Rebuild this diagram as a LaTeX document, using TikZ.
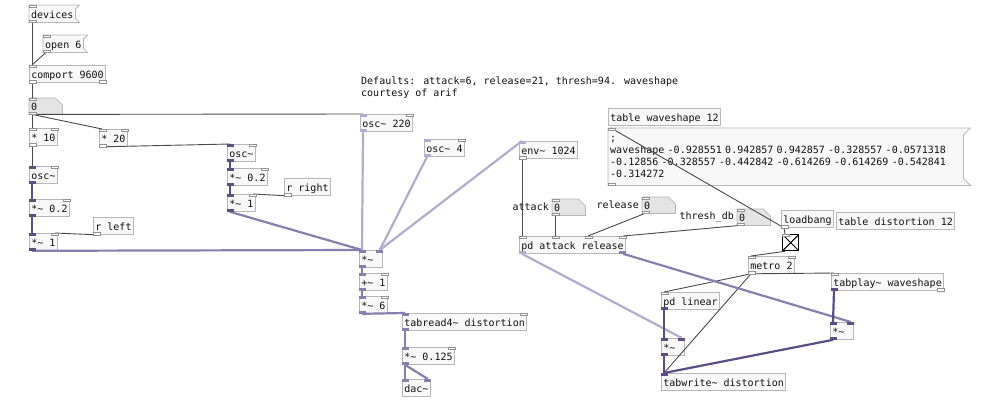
\documentclass[tikz,border=0pt]{standalone}
\usepackage{fontspec}
\newfontfamily\pdfont{DejaVu Sans Mono}
\definecolor{ink}     {HTML}{111111}
\definecolor{frame}   {HTML}{B8B8B8}
\definecolor{boxfill} {HTML}{F8F8F8}
\definecolor{numfill} {HTML}{E4E4E4}
\definecolor{wire}    {HTML}{4A4A4A}
\definecolor{sigdark} {HTML}{5A4E82}
\definecolor{sigmid}  {HTML}{877FAD}
\definecolor{siglight}{HTML}{B2ADCE}
\usetikzlibrary{positioning,calc,backgrounds}
\newcommand{\tld}{\textasciitilde}
\tikzset{
  pdbox/.style={anchor=north west,font=\pdfont\fontsize{10}{12}\selectfont,
                text=ink,inner xsep=2pt,inner ysep=0pt},
  obj/.style={pdbox,draw=frame,fill=boxfill,line width=0.8pt,
              minimum height=17pt,text height=9.5pt,text depth=0.5pt},
  narrow/.style={text width=19pt,align=left},
  msg/.style={pdbox,minimum height=17pt,text height=9.5pt,text depth=0.5pt},
  numbox/.style={pdbox,minimum height=16pt,text width=29pt,align=left,
                 text height=9pt,text depth=0.5pt},
  note/.style={pdbox,align=left},
  tag/.style={font=\pdfont\fontsize{10}{12}\selectfont,text=ink,inner sep=0pt},
  frameline/.style={draw=frame,line width=0.8pt},
  ctl/.style={draw=wire,line width=0.9pt},
  sig/.style={draw=#1,line width=2.2pt}, sig/.default=sigdark,
  ctltab/.style={draw=frame!80!black,fill=white,line width=0.6pt},
  sigtab/.style={fill=#1,draw=none}, sigtab/.default=sigdark
}
% inlets and outlets
\newcommand{\inL}[2][ctltab]{\draw[#1] (#2.north west) rectangle ++(7,2.5);}
\newcommand{\inR}[2][ctltab]{\draw[#1] (#2.north east) rectangle ++(-7,2.5);}
\newcommand{\outL}[2][ctltab]{\draw[#1] (#2.south west) rectangle ++(7,-2.5);}
\newcommand{\outR}[2][ctltab]{\draw[#1] (#2.south east) rectangle ++(-7,-2.5);}
% message and number box outlines
\newcommand{\flag}[2][4]{\draw[frameline,fill=boxfill] (#2.north west)
  -- ([xshift=#1pt]#2.north east) -- ([yshift=-#1pt]#2.north east)
  -- ([yshift=#1pt]#2.south east) -- ([xshift=#1pt]#2.south east)
  -- (#2.south west) -- cycle;}
\newcommand{\numframe}[1]{\draw[frameline,fill=numfill] (#1.north west)
  -- ([xshift=-7pt]#1.north east) -- ([yshift=-7pt]#1.north east)
  -- (#1.south east) -- (#1.south west) -- cycle;}

\begin{document}
\begin{tikzpicture}[x=1pt,y=-1pt]
  \useasboundingbox (0,0) rectangle (1000,400);

  % serial part
  \node[msg] (devices) at (29,5) {devices};
  \node[msg] (open) at (43,35) {open 6};
  \node[obj] (comport) at (29,65) {comport 9600};
  \node[numbox] (num) at (29,98) {0};
  \node[obj] (multen) at (29,128) {* 10};
  \node[obj] (multwenty) at (99,129) {* 20};
  \node[obj] (oscL) at (29,166) {osc\tld};
  \node[obj] (gainL) at (29,199) {*\tld{} 0.2};
  \node[obj] (rleft) at (93,217) {r left};
  \node[obj] (volL) at (29,233) {*\tld{} 1};
  \node[obj] (oscR) at (227,144) {osc\tld};
  \node[obj] (gainR) at (227,168) {*\tld{} 0.2};
  \node[obj] (rright) at (284,178) {r right};
  \node[obj] (volR) at (227,194) {*\tld{} 1};

  % distortion chain
  \node[note] (notes) at (359,77)
    {Defaults: attack=6, release=21, thresh=94. waveshape\\courtesy of arif};
  \node[obj] (carrier) at (360,114) {osc\tld{} 220};
  \node[obj] (lfo) at (424,139) {osc\tld{} 4};
  \node[obj] (follow) at (519,141) {env\tld{} 1024};
  \node[obj,narrow] (ring) at (359,250) {*\tld};
  \node[obj] (offset) at (359,273) {+\tld{} 1};
  \node[obj] (index) at (359,296) {*\tld{} 6};
  \node[obj] (lookup) at (402,313) {tabread4\tld{} distortion};
  \node[obj] (master) at (402,347) {*\tld{} 0.125};
  \node[obj] (out) at (402,379) {dac\tld};

  % envelope controls
  \node[numbox] (attack) at (552,199) {0};
  \node[tag,left=3pt of attack] (attacktag) {attack};
  \node[numbox] (release) at (642,197) {0};
  \node[tag,left=3pt of release] (releasetag) {release};
  \node[numbox] (thresh) at (737,209) {0};
  \node[tag,left=3pt of thresh] (threshtag) {thresh\_db};
  \node[obj] (dyn) at (519,236) {pd attack release};

  % table filling
  \node[obj] (wavetable) at (608,108) {table waveshape 12};
  \node[pdbox,text width=351pt,align=left,minimum height=57pt] (wavemsg) at (608,128)
    {;\\
     waveshape -0.928551 0.942857 0.942857 -0.328557 -0.0571318\\
     -0.12856 -0.328557 -0.442842 -0.614269 -0.614269 -0.542841\\
     -0.314272};
  \node[obj] (loadbang) at (781,210) {loadbang};
  \node[obj] (disttable) at (836,212) {table distortion 12};
  \node[draw=black,line width=1.3pt,fill=white,minimum size=16pt,inner sep=0pt,
        anchor=north west] (bang) at (782,234) {};
  \node[obj] (clock) at (748,256) {metro 2};
  \node[obj] (player) at (831,273) {tabplay\tld{} waveshape};
  \node[obj] (ramp) at (661,292) {pd linear};
  \node[obj,narrow] (shapeA) at (661,338) {*\tld};
  \node[obj,narrow] (shapeB) at (830,322) {*\tld};
  \node[obj] (writer) at (661,373) {tabwrite\tld{} distortion};

  \draw[line width=1pt] ([shift={(1.5pt,-1.5pt)}]bang.north west) -- ([shift={(-1.5pt,1.5pt)}]bang.south east);
  \draw[line width=1pt] ([shift={(-1.5pt,-1.5pt)}]bang.north east) -- ([shift={(1.5pt,1.5pt)}]bang.south west);

  \begin{scope}[on background layer]
    \fill[white] (0,0) rectangle (1000,400);
    \flag{devices} \flag{open} \flag[7]{wavemsg}
    \numframe{num} \numframe{attack} \numframe{release} \numframe{thresh}
  \end{scope}

  % control wires
  \draw[ctl] ([xshift=3pt]devices.south west) -- ([xshift=3pt]comport.north west);
  \draw[ctl] ([xshift=3pt]open.south west) -- ([xshift=3pt]comport.north west);
  \draw[ctl] ([xshift=3pt]comport.south west) -- ([xshift=3pt]num.north west);
  \draw[ctl] ([xshift=3pt]num.south west) -- ([xshift=3pt]multen.north west);
  \draw[ctl] ([xshift=3pt]num.south west) -- ([xshift=3pt]multwenty.north west);
  \draw[ctl] ([xshift=3pt]num.south west) -- ([xshift=3pt]carrier.north west);
  \draw[ctl] ([xshift=3pt]multen.south west) -- ([xshift=3pt]oscL.north west);
  \draw[ctl] ([xshift=3pt]multwenty.south west) -- ([xshift=3pt]oscR.north west);
  \draw[ctl] ([xshift=3pt]rleft.south west) -- ([xshift=-3pt]volL.north east);
  \draw[ctl] ([xshift=3pt]rright.south west) -- ([xshift=-3pt]volR.north east);
  \draw[ctl] ([xshift=3pt]follow.south west) -- ([xshift=3pt]dyn.north west);
  \draw[ctl] ([xshift=3pt]attack.south west) -- ([xshift=36pt]dyn.north west);
  \draw[ctl] ([xshift=3pt]release.south west) -- ([xshift=69pt]dyn.north west);
  \draw[ctl] ([xshift=3pt]thresh.south west) -- ([xshift=-3pt]dyn.north east);
  \draw[ctl] ([xshift=3pt]loadbang.south west) -- ([xshift=3pt]wavemsg.north west);
  \draw[ctl] ([xshift=3pt]loadbang.south west) -- ([xshift=3pt]bang.north west);
  \draw[ctl] ([xshift=3pt]bang.south west) -- ([xshift=3pt]clock.north west);
  \draw[ctl] ([xshift=3pt]clock.south west) -- ([xshift=3pt]player.north west);
  \draw[ctl] ([xshift=3pt]clock.south west) -- ([xshift=3pt]ramp.north west);
  \draw[ctl] ([xshift=3pt]clock.south west) -- ([xshift=3pt]writer.north west);

  % signal wires
  \draw[sig] ([xshift=3pt]oscL.south west) -- ([xshift=3pt]gainL.north west);
  \draw[sig] ([xshift=3pt]gainL.south west) -- ([xshift=3pt]volL.north west);
  \draw[sig] ([xshift=3pt]oscR.south west) -- ([xshift=3pt]gainR.north west);
  \draw[sig] ([xshift=3pt]gainR.south west) -- ([xshift=3pt]volR.north west);
  \draw[sig=sigmid] ([xshift=3pt]volL.south west) -- ([xshift=3pt]ring.north west);
  \draw[sig=sigmid] ([xshift=3pt]volR.south west) -- ([xshift=3pt]ring.north west);
  \draw[sig=siglight] ([xshift=3pt]carrier.south west) -- ([xshift=3pt]ring.north west);
  \draw[sig=siglight] ([xshift=3pt]lfo.south west) -- ([xshift=-3pt]ring.north east);
  \draw[sig=siglight] ([xshift=3pt]follow.north west) -- ([xshift=-3pt]ring.north east);
  \draw[sig=sigmid] ([xshift=3pt]ring.south west) -- ([xshift=3pt]offset.north west);
  \draw[sig=sigmid] ([xshift=3pt]offset.south west) -- ([xshift=3pt]index.north west);
  \draw[sig=sigmid] ([xshift=3pt]index.south west) -- ([xshift=3pt]lookup.north west);
  \draw[sig=sigmid] ([xshift=3pt]lookup.south west) -- ([xshift=3pt]master.north west);
  \draw[sig=sigmid] ([xshift=3pt]master.south west) -- ([xshift=3pt]out.north west);
  \draw[sig=sigmid] ([xshift=3pt]master.south west) -- ([xshift=-3pt]out.north east);
  \draw[sig=siglight] ([xshift=3pt]dyn.south west) -- ([xshift=-3pt]shapeA.north east);
  \draw[sig=sigmid] ([xshift=-3pt]dyn.south east) -- ([xshift=-3pt]shapeB.north east);
  \draw[sig] ([xshift=3pt]ramp.south west) -- ([xshift=3pt]shapeA.north west);
  \draw[sig] ([xshift=3pt]shapeA.south west) -- ([xshift=3pt]writer.north west);
  \draw[sig] ([xshift=3pt]player.south west) -- ([xshift=3pt]shapeB.north west);
  \draw[sig] ([xshift=3pt]shapeB.south west) -- ([xshift=3pt]writer.north west);

  % inlets and outlets
  \inL{devices} \outL{devices} \inL{open} \outL{open}
  \inL{comport} \outL{comport} \outR{comport}
  \inL{num} \outL{num}
  \inL{multen} \inR{multen} \outL{multen}
  \inL{multwenty} \inR{multwenty} \outL{multwenty}
  \inL[sigtab]{oscL} \inR{oscL} \outL[sigtab]{oscL}
  \inL[sigtab]{gainL} \inR{gainL} \outL[sigtab]{gainL}
  \outL{rleft}
  \inL[sigtab]{volL} \inR{volL} \outL[sigtab]{volL}
  \inL[sigtab]{oscR} \inR{oscR} \outL[sigtab]{oscR}
  \inL[sigtab]{gainR} \inR{gainR} \outL[sigtab]{gainR}
  \outL{rright}
  \inL[sigtab]{volR} \inR{volR} \outL[sigtab]{volR}
  \inL[sigtab=siglight]{carrier} \inR{carrier} \outL[sigtab=siglight]{carrier}
  \inL[sigtab=siglight]{lfo} \inR{lfo} \outL[sigtab=siglight]{lfo}
  \inL[sigtab=siglight]{follow} \outL{follow}
  \inL[sigtab=sigmid]{ring} \inR[sigtab=sigmid]{ring} \outL[sigtab=sigmid]{ring}
  \inL[sigtab=sigmid]{offset} \inR{offset} \outL[sigtab=sigmid]{offset}
  \inL[sigtab=sigmid]{index} \inR{index} \outL[sigtab=sigmid]{index}
  \inL[sigtab=sigmid]{lookup} \inR{lookup} \outL[sigtab=sigmid]{lookup}
  \inL[sigtab=sigmid]{master} \inR{master} \outL[sigtab=sigmid]{master}
  \inL[sigtab=sigmid]{out} \inR[sigtab=sigmid]{out}
  \inL{attack} \outL{attack} \inL{release} \outL{release} \inL{thresh} \outL{thresh}
  \inL{dyn} \inR{dyn}
  \draw[ctltab] ([xshift=33pt]dyn.north west) rectangle ++(7,2.5);
  \draw[ctltab] ([xshift=66pt]dyn.north west) rectangle ++(7,2.5);
  \outL[sigtab=siglight]{dyn} \outR[sigtab=sigmid]{dyn}
  \inL{wavemsg} \outL{wavemsg}
  \outL{loadbang}
  \inL{bang}
  \inL{clock} \inR{clock} \outL{clock}
  \inL{player} \outL[sigtab]{player} \outR{player}
  \inL{ramp} \outL[sigtab]{ramp}
  \inL[sigtab]{shapeA} \inR[sigtab]{shapeA} \outL[sigtab]{shapeA}
  \inL[sigtab]{shapeB} \inR[sigtab]{shapeB} \outL[sigtab]{shapeB}
  \inL[sigtab]{writer}
\end{tikzpicture}
\end{document}
